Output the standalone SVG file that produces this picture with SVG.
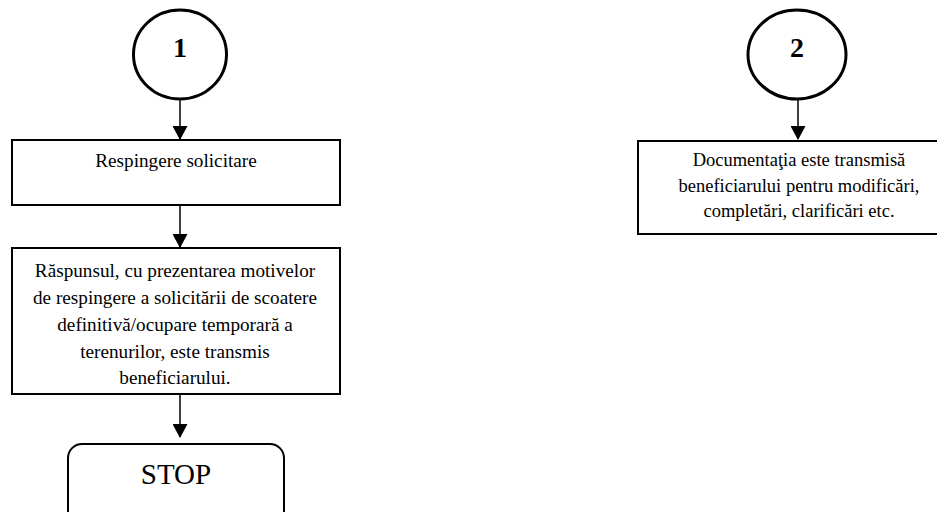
<svg xmlns="http://www.w3.org/2000/svg" width="937" height="512" viewBox="0 0 937 512">
<style>
.box{fill:#fff;stroke:#000;stroke-width:2}
.circ{fill:#fff;stroke:#000;stroke-width:3}
.t{font-family:"Liberation Serif","Times New Roman",serif;font-size:19.2px;fill:#000;text-anchor:middle}
.t2{font-family:"Liberation Serif","Times New Roman",serif;font-size:18.5px;fill:#000;text-anchor:middle}
.num{font-family:"Liberation Serif","Times New Roman",serif;font-size:28px;font-weight:bold;fill:#000;text-anchor:middle}
.stop{font-family:"Liberation Serif","Times New Roman",serif;font-size:29px;fill:#000;text-anchor:middle}
.conn{stroke:#000;stroke-width:1.5;fill:none;marker-end:url(#ah)}
</style>
<defs>
<marker id="ah" markerWidth="14" markerHeight="15" refX="13" refY="7.5" orient="auto" markerUnits="userSpaceOnUse" viewBox="0 0 14 15">
<path d="M0,0 L14,7.5 L0,15 z" fill="#000"/>
</marker>
</defs>
<rect width="937" height="512" fill="#fff"/>
<g id="connectors">
<line class="conn" x1="180" y1="99" x2="180" y2="139"/>
<line class="conn" x1="180" y1="205" x2="180" y2="247"/>
<line class="conn" x1="180" y1="394" x2="180" y2="437"/>
<line class="conn" x1="798" y1="99" x2="798" y2="139"/>
</g>
<g id="n1">
<ellipse class="circ" cx="180" cy="54.5" rx="46.5" ry="44.5"/>
<text class="num" x="180" y="57">1</text>
</g>
<g id="n2">
<rect class="box" x="12" y="140" width="328" height="65"/>
<text class="t" x="176" y="167">Respingere solicitare</text>
</g>
<g id="n3">
<rect class="box" x="12" y="248" width="328" height="146"/>
<text class="t" x="175" y="277">Răspunsul, cu prezentarea motivelor</text>
<text class="t" x="175" y="304">de respingere a solicitării de scoatere</text>
<text class="t" x="175" y="331">definitivă/ocupare temporară a</text>
<text class="t" x="175" y="358">terenurilor, este transmis</text>
<text class="t" x="175" y="384">beneficiarului.</text>
</g>
<g id="n4">
<rect class="box" x="68" y="444" width="216" height="90" rx="14" ry="14"/>
<text class="stop" x="176" y="484">STOP</text>
</g>
<g id="n5">
<ellipse class="circ" cx="797" cy="54.5" rx="49" ry="44.5"/>
<text class="num" x="797" y="57">2</text>
</g>
<g id="n6">
<rect class="box" x="638" y="141" width="320" height="93"/>
<text class="t2" x="799" y="166">Documentaţia este transmisă</text>
<text class="t2" x="799" y="192">beneficiarului pentru modificări,</text>
<text class="t2" x="799" y="217">completări, clarificări etc.</text>
</g>
</svg>
